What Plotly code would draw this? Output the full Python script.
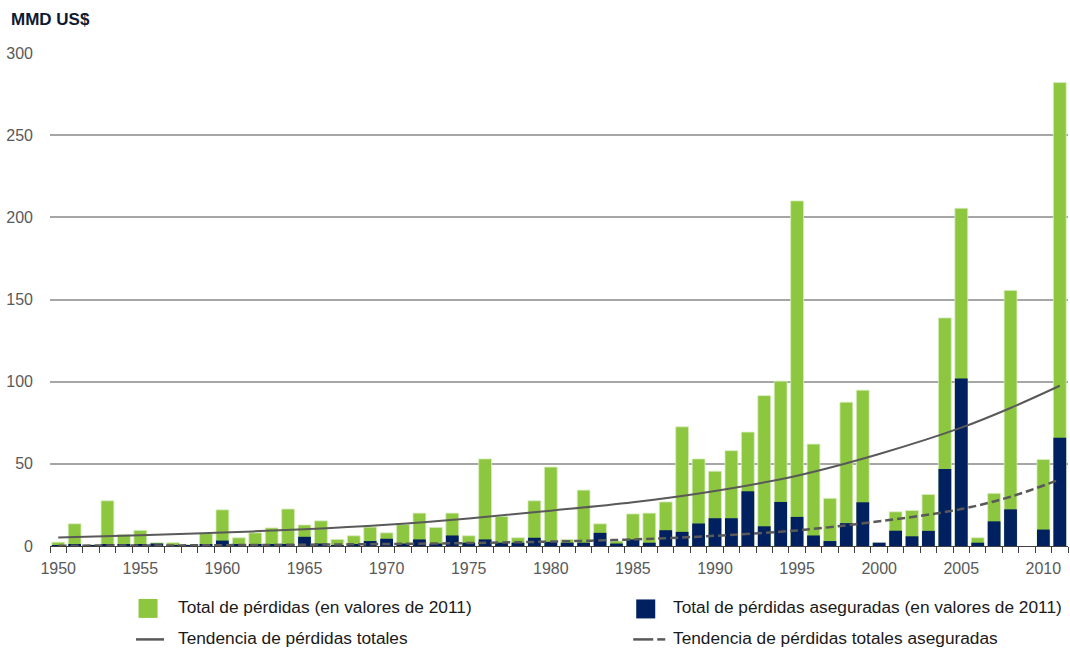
import plotly.graph_objects as go

years = list(range(1950, 2012))

total_losses = [2.3, 13.5, 0.8, 27.5, 7, 9.5, 2, 2, 0.8, 7.5,
                22, 5, 8, 11, 22.5, 12.8, 15.3, 4, 6.2, 11.5,
                8, 13, 20, 11.3, 20, 6.2, 53, 18, 5, 27.5,
                48, 4, 34, 13.5, 3, 19.5, 20, 26.8, 72.5, 53,
                45.5, 58, 69.3, 91.5, 100.3, 210, 62, 29, 87.5, 94.8,
                2, 20.8, 21.6, 31.3, 138.8, 205.5, 5, 32, 155.5, None,
                52.6, 282]

insured_losses = [0.5, 1, 0.5, 1, 0.8, 1, 1.5, 0.5, 0.3, 1,
                  3.3, 1, 1, 1, 1, 5.6, 1.5, 0.5, 1, 3,
                  4.4, 1.5, 4, 1.5, 6.4, 2, 4, 2, 2, 5,
                  2.5, 2, 2, 8, 1.5, 4, 2, 9.6, 8.6, 13.7,
                  16.9, 16.9, 33.3, 12, 26.8, 17.7, 6.4, 3, 13.9, 26.6,
                  2, 9.3, 5.9, 9.2, 46.8, 102, 2, 15, 22.3, None,
                  10, 65.8]

trend_years = [1950, 1955, 1960, 1965, 1970, 1975, 1980, 1985, 1990, 1995, 2000, 2005, 2008, 2011]
trend_total = [5.2, 6.5, 8.2, 10.2, 13, 16.8, 21.5, 26.6, 33.5, 42.8, 56, 72, 84, 97.5]
trend_insured = [0.2, 0.3, 0.5, 0.8, 1.2, 1.8, 2.7, 4.0, 6.2, 9.5, 15, 22.5, 30, 40.5]

y_ticks = [0, 50, 100, 150, 200, 250, 300]
x_ticks = [1950, 1955, 1960, 1965, 1970, 1975, 1980, 1985, 1990, 1995, 2000, 2005, 2010]

legend_labels = ["Total de pérdidas (en valores de 2011)",
                 "Total de pérdidas aseguradas (en valores de 2011)",
                 "Tendencia de pérdidas totales",
                 "Tendencia de pérdidas totales aseguradas"]

GREEN = "#8DC63F"
NAVY = "#002060"
TREND = "#595959"
FONT = "Liberation Sans, Arial, sans-serif"

W, H = 1070, 650
ML, MR, MT, MB = 50, 2.4, 53, 103.5
PW, PH = W - ML - MR, H - MT - MB


def px(x):
    return (x - ML) / PW


def py(y):
    return (H - MB - y) / PH


fig = go.Figure()
fig.add_trace(go.Bar(x=years, y=total_losses, name=legend_labels[0],
                     marker=dict(color=GREEN, line=dict(color="#d6ecbb", width=0.8)),
                     width=0.78))
fig.add_trace(go.Bar(x=years, y=insured_losses, name=legend_labels[1],
                     marker=dict(color=NAVY, line=dict(width=0)),
                     width=0.78))
fig.add_trace(go.Scatter(x=trend_years, y=trend_total, mode="lines", name=legend_labels[2],
                         line=dict(color=TREND, width=2, shape="spline")))
fig.add_trace(go.Scatter(x=trend_years, y=trend_insured, mode="lines", name=legend_labels[3],
                         line=dict(color=TREND, width=2.5, shape="spline", dash="8px,4px")))

# Manual 2x2 legend (shapes + text) placed below the plot
shapes = [
    dict(type="rect", xref="paper", yref="paper", x0=px(138.5), x1=px(157.5),
         y0=py(618.5), y1=py(599.5), fillcolor=GREEN, line=dict(width=0)),
    dict(type="rect", xref="paper", yref="paper", x0=px(636), x1=px(655),
         y0=py(619), y1=py(600), fillcolor=NAVY, line=dict(width=0)),
    dict(type="line", xref="paper", yref="paper", x0=px(136), x1=px(164),
         y0=py(640), y1=py(640), line=dict(color=TREND, width=2.5)),
    dict(type="line", xref="paper", yref="paper", x0=px(633), x1=px(653),
         y0=py(640), y1=py(640), line=dict(color=TREND, width=2.5)),
    dict(type="line", xref="paper", yref="paper", x0=px(657), x1=px(665),
         y0=py(640), y1=py(640), line=dict(color=TREND, width=2.5)),
]

leg_font = dict(family=FONT, size=17.3, color="#1a1a1a")
annotations = [
    dict(text="<b>MMD US$</b>", xref="paper", yref="paper",
         x=px(9), y=py(19.5), xanchor="left", yanchor="middle", showarrow=False,
         font=dict(family=FONT, size=17, color="#0d1a33")),
    dict(text=legend_labels[0], xref="paper", yref="paper", x=px(176), y=py(607.5),
         xanchor="left", yanchor="middle", showarrow=False, font=leg_font),
    dict(text=legend_labels[1], xref="paper", yref="paper", x=px(671), y=py(607.5),
         xanchor="left", yanchor="middle", showarrow=False, font=leg_font),
    dict(text=legend_labels[2], xref="paper", yref="paper", x=px(176), y=py(638.5),
         xanchor="left", yanchor="middle", showarrow=False, font=leg_font),
    dict(text=legend_labels[3], xref="paper", yref="paper", x=px(671), y=py(638.5),
         xanchor="left", yanchor="middle", showarrow=False, font=leg_font),
]

fig.update_layout(
    width=W, height=H,
    margin=dict(l=ML, r=MR, t=MT, b=MB),
    paper_bgcolor="white", plot_bgcolor="white",
    barmode="overlay",
    showlegend=False,
    font=dict(family=FONT, size=16, color="#595959"),
    xaxis=dict(range=[1949.5, 2011.5], tickmode="array", tickvals=x_ticks,
               ticks="", showgrid=False, zeroline=False,
               showline=True, linecolor="#404040", linewidth=1.2,
               ticklabelstandoff=8,
               tickfont=dict(family=FONT, size=16, color="#595959"),
               minor=dict(tick0=1949.5, dtick=1, ticks="outside", ticklen=6,
                          tickcolor="#404040", tickwidth=1.2, showgrid=False)),
    yaxis=dict(range=[0, 300], tickmode="array", tickvals=y_ticks,
               showgrid=True, gridcolor="#A6A6A6", gridwidth=1.5,
               zeroline=False, showline=False, ticks="",
               ticklabelstandoff=16,
               tickfont=dict(family=FONT, size=16, color="#595959")),
    shapes=shapes,
    annotations=annotations,
)

fig.write_html("out.html",
               config={"displayModeBar": False},
               post_script="document.body.style.margin='0px';document.body.style.overflow='hidden';")
